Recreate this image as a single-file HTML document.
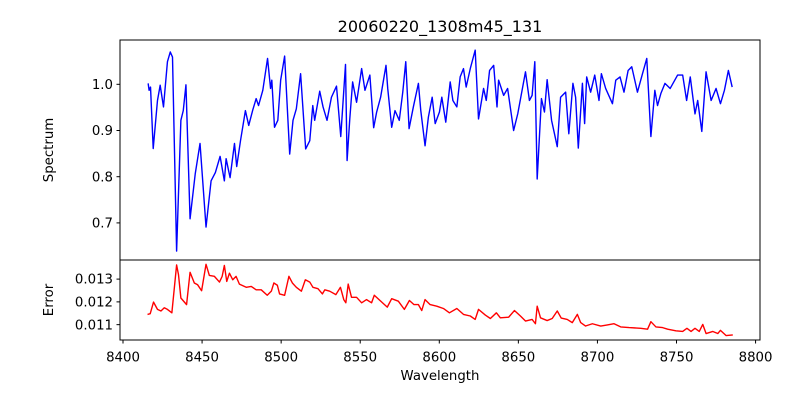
<!DOCTYPE html>
<html><head><meta charset="utf-8"><style>
body{margin:0;background:#fff;}
svg text{font-family:"DejaVu Sans","Liberation Sans",sans-serif;fill:#000;}
</style></head><body>
<svg id="chart" width="800" height="400" xmlns="http://www.w3.org/2000/svg">
<rect width="800" height="400" fill="#fff"/>
<text x="440" y="32" font-size="16" text-anchor="middle">20060220_1308m45_131</text>
<g id="gtop"></g><g id="gbot"></g>
<text x="440" y="380" font-size="13.3" text-anchor="middle">Wavelength</text>
<text transform="translate(53,150) rotate(-90)" font-size="13.3" text-anchor="middle">Spectrum</text>
<text transform="translate(53,300) rotate(-90)" font-size="13.3" text-anchor="middle">Error</text>
</svg>
<script>
const specWl=[8415.9,8416.5,8417.4,8419.1,8421.8,8423.5,8425.6,8428.1,8429.9,8431.3,8433.9,8436.6,8438.1,8439.8,8442.4,8445.7,8448.7,8452.5,8455.7,8458.4,8461.4,8464.1,8465.2,8467.7,8470.5,8471.9,8474.3,8477.4,8479.5,8482.1,8484.2,8485.7,8488.4,8491.4,8493.3,8494.1,8495.8,8497.9,8499.7,8502.2,8505.4,8507.5,8509.6,8512.3,8515.5,8518.1,8520.0,8521.2,8524.4,8526.5,8529.0,8531.8,8535.0,8537.7,8540.7,8541.7,8543.4,8545.2,8547.7,8550.9,8553.0,8556.1,8558.5,8560.4,8562.9,8566.3,8567.4,8569.9,8572.0,8574.7,8576.9,8578.8,8580.9,8583.6,8586.8,8588.3,8591.0,8593.1,8595.5,8597.4,8600.1,8601.6,8604.1,8606.9,8608.6,8611.1,8613.2,8615.3,8617.0,8619.6,8622.7,8624.8,8628.0,8629.7,8631.8,8634.4,8636.5,8637.5,8640.7,8643.2,8647.0,8649.6,8654.5,8657.0,8658.7,8660.4,8661.9,8664.6,8666.5,8668.2,8671.0,8674.6,8676.7,8679.9,8681.9,8684.5,8686.2,8687.9,8690.5,8691.9,8693.2,8695.7,8698.3,8701.0,8702.5,8705.2,8709.5,8711.6,8714.3,8716.8,8719.4,8721.7,8725.3,8728.5,8731.2,8733.8,8736.3,8738.0,8740.1,8742.7,8746.0,8750.7,8753.9,8756.4,8758.7,8761.7,8763.4,8766.0,8768.7,8771.9,8775.0,8777.8,8780.3,8782.8,8785.2];
const specVal=[1.002,0.987,0.994,0.861,0.965,0.998,0.951,1.049,1.070,1.059,0.639,0.922,0.943,0.999,0.709,0.807,0.872,0.691,0.791,0.809,0.844,0.791,0.839,0.798,0.872,0.822,0.878,0.943,0.911,0.945,0.969,0.954,0.987,1.056,0.991,1.009,0.907,0.922,1.009,1.061,0.849,0.922,0.947,1.023,0.860,0.878,0.954,0.922,0.985,0.951,0.922,0.972,0.996,0.887,1.043,0.835,0.925,1.005,0.961,1.034,0.987,1.020,0.906,0.940,0.972,1.041,0.991,0.907,0.943,0.922,0.983,1.049,0.904,0.951,1.002,0.943,0.867,0.929,0.972,0.915,0.940,0.972,0.918,1.005,0.965,0.951,1.016,1.034,0.994,1.034,1.074,0.925,0.991,0.965,1.030,1.041,0.951,1.009,0.976,0.991,0.900,0.936,1.027,0.965,0.976,1.049,0.795,0.969,0.940,1.010,0.922,0.865,0.972,0.983,0.893,1.002,0.972,0.862,1.002,0.915,1.016,0.983,1.020,0.965,1.023,0.991,0.958,1.009,1.016,0.983,1.030,1.038,0.983,1.023,1.056,0.887,0.987,0.954,0.980,1.002,0.991,1.020,1.020,0.965,1.016,0.936,0.965,0.898,1.027,0.965,0.991,0.958,0.987,1.030,0.994];
const errWl=[8415.5,8417.2,8419.3,8421.8,8424.0,8426.1,8428.1,8430.9,8433.9,8435.1,8436.6,8440.2,8442.4,8445.1,8447.2,8449.7,8452.5,8454.6,8457.8,8461.0,8462.7,8464.1,8465.6,8467.3,8469.4,8471.5,8473.6,8477.9,8481.1,8484.2,8487.4,8491.2,8493.8,8495.4,8497.6,8499.0,8502.2,8504.9,8507.1,8509.6,8512.8,8515.3,8518.1,8520.1,8523.3,8526.1,8527.6,8530.7,8534.6,8537.5,8539.6,8540.9,8542.4,8544.5,8547.7,8550.9,8554.0,8557.2,8558.9,8562.5,8567.1,8569.9,8574.1,8577.9,8581.1,8584.0,8586.8,8588.9,8591.0,8594.2,8598.4,8602.6,8606.4,8611.1,8615.3,8619.6,8622.7,8624.8,8629.1,8632.3,8636.1,8638.6,8643.9,8647.5,8651.3,8654.5,8658.7,8660.8,8661.9,8664.0,8668.2,8671.4,8674.6,8677.1,8680.9,8684.1,8687.3,8689.4,8692.5,8696.8,8702.1,8706.3,8710.5,8714.7,8720.0,8727.4,8731.7,8733.8,8737.0,8741.2,8744.4,8749.6,8753.9,8756.6,8759.2,8761.7,8764.4,8766.6,8768.7,8773.0,8776.1,8777.8,8781.4,8785.6];
const errVal=[0.01145,0.01148,0.01199,0.01167,0.01160,0.01174,0.01167,0.01152,0.01362,0.01319,0.01217,0.01188,0.01330,0.01283,0.01275,0.01249,0.01365,0.01316,0.01312,0.01287,0.01312,0.01360,0.01290,0.01326,0.01297,0.01312,0.01278,0.01264,0.01268,0.01253,0.01253,0.01229,0.01247,0.01283,0.01273,0.01235,0.01229,0.01312,0.01283,0.01264,0.01247,0.01297,0.01287,0.01264,0.01258,0.01235,0.01253,0.01247,0.01232,0.01264,0.01210,0.01196,0.01278,0.01220,0.01220,0.01196,0.01210,0.01196,0.01229,0.01206,0.01177,0.01214,0.01203,0.01167,0.01206,0.01188,0.01188,0.01162,0.01210,0.01188,0.01181,0.01171,0.01152,0.01171,0.01145,0.01138,0.01123,0.01167,0.01142,0.01127,0.01152,0.01130,0.01133,0.01162,0.01138,0.01116,0.01123,0.01104,0.01181,0.01130,0.01118,0.01127,0.01160,0.01129,0.01123,0.01109,0.01145,0.01109,0.01094,0.01104,0.01094,0.01099,0.01104,0.01090,0.01087,0.01084,0.01080,0.01113,0.01090,0.01087,0.01080,0.01073,0.01070,0.01084,0.01070,0.01084,0.01070,0.01101,0.01061,0.01070,0.01061,0.01075,0.01052,0.01055];
const xTicks=[8400,8450,8500,8550,8600,8650,8700,8750,8800];
const specTicks=[0.7,0.8,0.9,1.0];
const specTickLabels=["0.7","0.8","0.9","1.0"];
const errTicks=[0.011,0.012,0.013];
const errTickLabels=["0.011","0.012","0.013"];

const NS="http://www.w3.org/2000/svg";
const L=120,R=760,xMin=8398.1,xMax=8802.8;
const xS=v=>L+(v-xMin)/(xMax-xMin)*(R-L);
const topT=40,topB=260,sMin=0.6197,sMax=1.0959;
const yS=v=>topB-(v-sMin)/(sMax-sMin)*(topB-topT);
const botT=260,botB=340,eMin=0.010326,eMax=0.013839;
const yE=v=>botB-(v-eMin)/(eMax-eMin)*(botB-botT);
function mk(tag,attrs,parent){const e=document.createElementNS(NS,tag);for(const k in attrs)e.setAttribute(k,attrs[k]);parent.appendChild(e);return e;}
const gTop=document.getElementById('gtop'),gBot=document.getElementById('gbot');

let d=specWl.map((w,i)=>(i?'L':'M')+xS(w).toFixed(2)+','+yS(specVal[i]).toFixed(2)).join('');
let p=mk('path',{d:d,fill:'none',stroke:'#0000ff','stroke-width':1.4,'stroke-linejoin':'round'},gTop);


d=errWl.map((w,i)=>(i?'L':'M')+xS(w).toFixed(2)+','+yE(errVal[i]).toFixed(2)).join('');
p=mk('path',{d:d,fill:'none',stroke:'#ff0000','stroke-width':1.4,'stroke-linejoin':'round'},gBot);



let f=mk('rect',{x:L,y:topT,width:R-L,height:topB-topT,fill:'none',stroke:'#000','stroke-width':1},gTop);


f=mk('rect',{x:L,y:botT,width:R-L,height:botB-botT,fill:'none',stroke:'#000','stroke-width':1},gBot);



specTicks.forEach((v,i)=>{const y=yS(v);
 mk('line',{x1:L-3.5,x2:L,y1:y,y2:y,stroke:'#000'},gTop);
 const t=mk('text',{x:L-7,y:y+4.6,'font-size':13.3,'text-anchor':'end'},gTop);t.textContent=specTickLabels[i];
 
 });
errTicks.forEach((v,i)=>{const y=yE(v);
 mk('line',{x1:L-3.5,x2:L,y1:y,y2:y,stroke:'#000'},gBot);
 const t=mk('text',{x:L-7,y:y+4.6,'font-size':13.3,'text-anchor':'end'},gBot);t.textContent=errTickLabels[i];
 
 });
xTicks.forEach(v=>{const x=xS(v);
 mk('line',{x1:x,x2:x,y1:botB,y2:botB+3.5,stroke:'#000'},gBot);
 const t=mk('text',{x:x,y:361.5,'font-size':13.3,'text-anchor':'middle'},gBot);t.textContent=String(v);
 
 });
</script>
</body></html>
